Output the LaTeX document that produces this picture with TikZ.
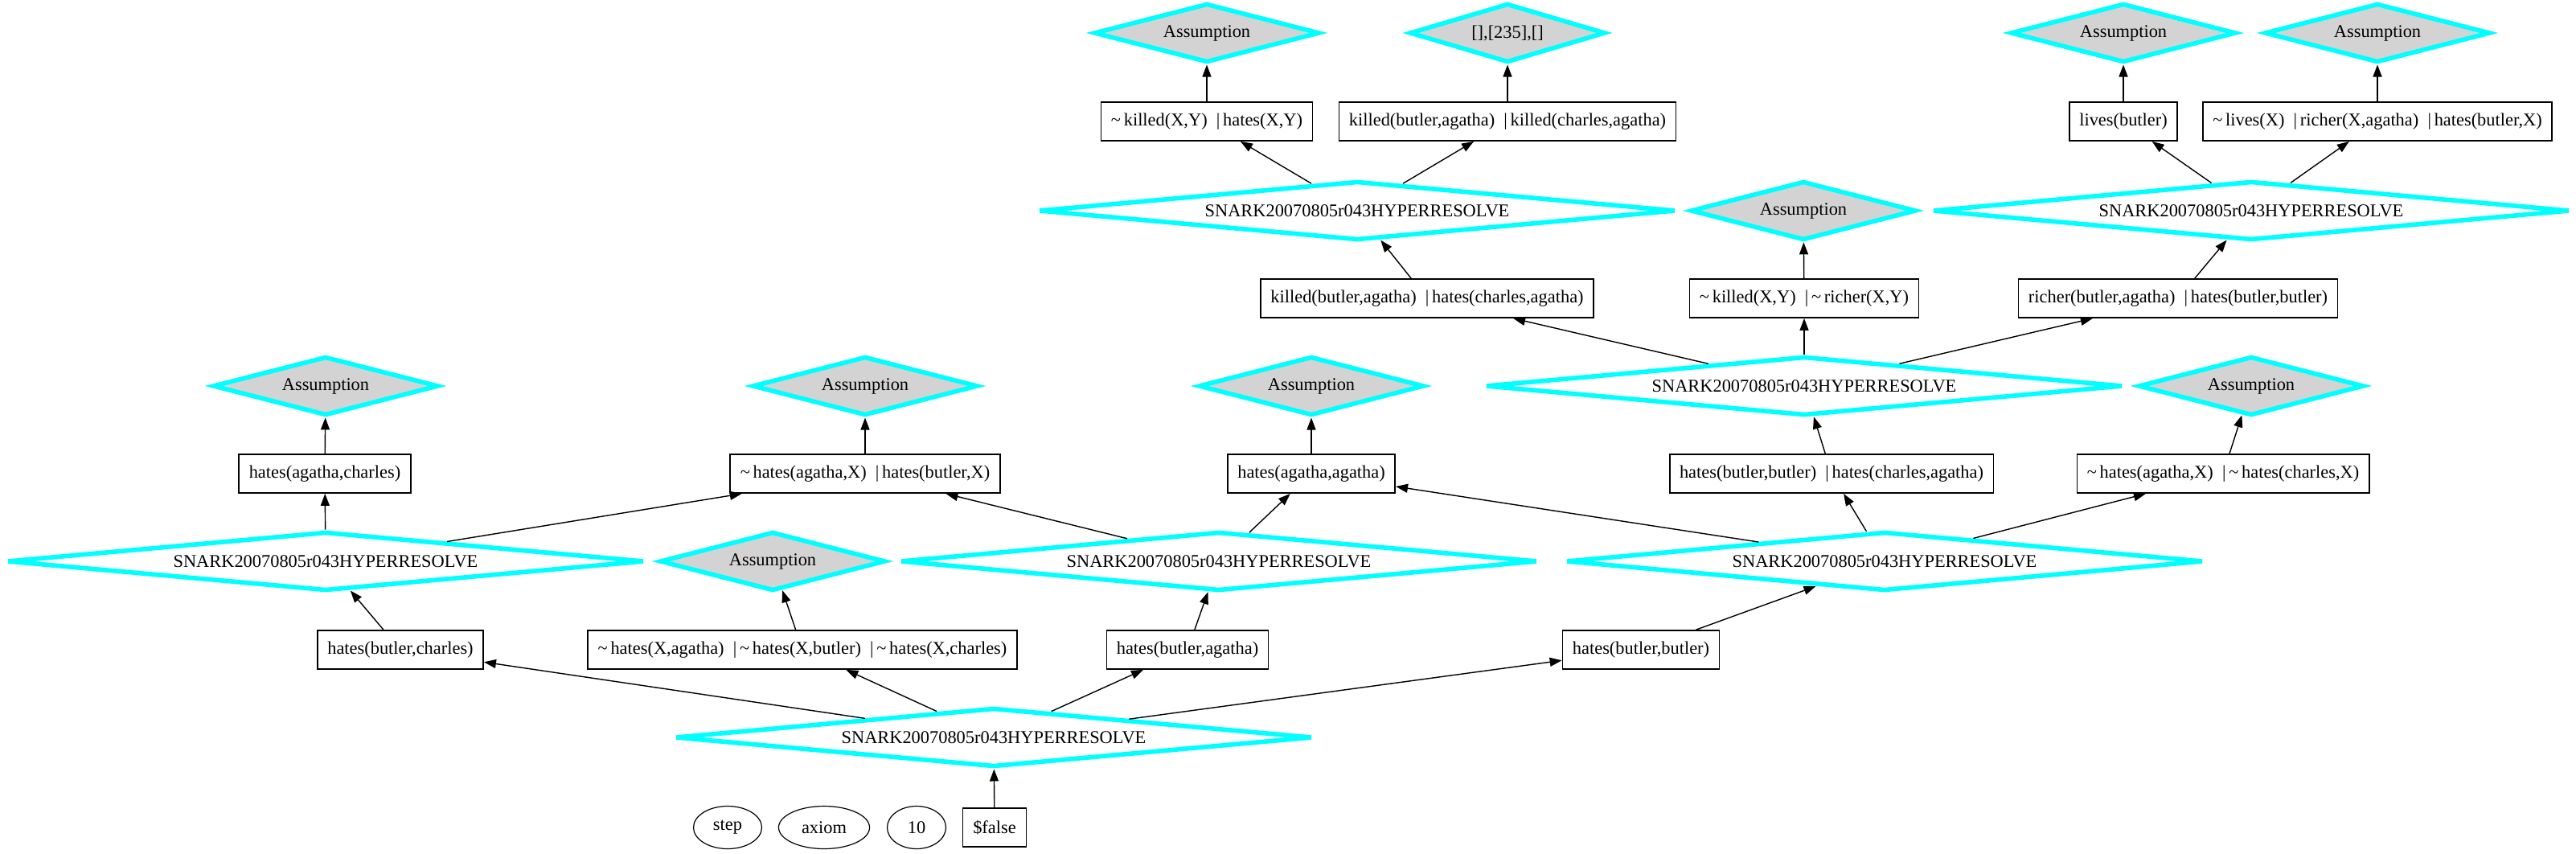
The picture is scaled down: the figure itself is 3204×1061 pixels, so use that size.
\documentclass[tikz,border=0pt]{standalone}
\usepackage{fontspec}
\setmainfont{Liberation Serif}
\usepackage{tikz}
\usetikzlibrary{shapes,arrows.meta}
\definecolor{rescyan}{HTML}{00FFFF}
\definecolor{asmgray}{HTML}{D3D3D3}
\newcommand{\tld}{\textasciitilde\,}
\tikzset{
    clause/.style={draw,rectangle,line width=0.9pt,fill=white,minimum height=24pt,inner xsep=6.2pt,inner ysep=2pt},
    infer/.style={diamond,draw=rescyan,line width=2.8pt,fill=white,aspect=10,minimum width=396pt,minimum height=36.7pt,inner sep=0pt},
    assume/.style={diamond,draw=rescyan,line width=2.8pt,fill=asmgray,aspect=3.8,minimum width=140.2pt,minimum height=36.7pt,inner sep=0pt},
    legend/.style={ellipse,draw,line width=0.6pt,minimum width=36.5pt,minimum height=26.5pt,inner xsep=6pt,inner ysep=2pt}
}

\begin{document}
\begin{tikzpicture}[x=0.5pt,y=-0.5pt,font=\fontsize{11.2pt}{13pt}\selectfont,
    >={Triangle[length=7.5pt,width=5.5pt]},every path/.append style={line width=0.7pt}]
    \useasboundingbox (0,0) rectangle (3204,1061);
    % top row
    \node[assume] (asmA1) at (1501,41) {Assumption};
    \node[assume,minimum width=121.7pt] (asmA2) at (1875,41) {[],[235],[]};
    \node[assume] (asmA3) at (2641,41) {Assumption};
    \node[assume] (asmA4) at (2957,41) {Assumption};
    \node[clause] (clB1) at (1501,151) {\tld killed(X,Y)~~|\,hates(X,Y)};
    \node[clause] (clB2) at (1875,151) {killed(butler,agatha)~~|\,killed(charles,agatha)};
    \node[clause] (clB3) at (2641,151) {lives(butler)};
    \node[clause] (clB4) at (2957,151) {\tld lives(X)~~|\,richer(X,agatha)~~|\,hates(butler,X)};
    \node[infer] (resC1) at (1688,262) {SNARK20070805r043HYPERRESOLVE};
    \node[assume] (asmC2) at (2243,262) {Assumption};
    \node[infer] (resC3) at (2800,262) {SNARK20070805r043HYPERRESOLVE};
    \node[clause] (clD1) at (1775,371) {killed(butler,agatha)~~|\,hates(charles,agatha)};
    \node[clause] (clD2) at (2244,371) {\tld killed(X,Y)~~|\,\tld richer(X,Y)};
    \node[clause] (clD3) at (2709,371) {richer(butler,agatha)~~|\,hates(butler,butler)};
    % middle rows
    \node[assume] (asmE1) at (405,480) {Assumption};
    \node[assume] (asmE2) at (1076,480) {Assumption};
    \node[assume] (asmE3) at (1631,480) {Assumption};
    \node[infer] (resE4) at (2244,480) {SNARK20070805r043HYPERRESOLVE};
    \node[assume] (asmE5) at (2800,480) {Assumption};
    \node[clause] (clF1) at (404,589) {hates(agatha,charles)};
    \node[clause] (clF2) at (1076,589) {\tld hates(agatha,X)~~|\,hates(butler,X)};
    \node[clause] (clF3) at (1631,589) {hates(agatha,agatha)};
    \node[clause] (clF4) at (2278,589) {hates(butler,butler)~~|\,hates(charles,agatha)};
    \node[clause] (clF5) at (2765,589) {\tld hates(agatha,X)~~|\,\tld hates(charles,X)};
    \node[infer] (resG1) at (405,698) {SNARK20070805r043HYPERRESOLVE};
    \node[assume] (asmG2) at (961,698) {Assumption};
    \node[infer] (resG3) at (1516,698) {SNARK20070805r043HYPERRESOLVE};
    \node[infer] (resG4) at (2344,698) {SNARK20070805r043HYPERRESOLVE};
    \node[clause] (clH1) at (498,808) {hates(butler,charles)};
    \node[clause] (clH2) at (998,808) {\tld hates(X,agatha)~~|\,\tld hates(X,butler)~~|\,\tld hates(X,charles)};
    \node[clause] (clH3) at (1477,808) {hates(butler,agatha)};
    \node[clause] (clH4) at (2041,808) {hates(butler,butler)};
    \node[infer] (resI) at (1236,917) {SNARK20070805r043HYPERRESOLVE};
    % legend
    \node[legend] (lgStep) at (905,1029) {step};
    \node[legend] (lgAxiom) at (1025,1029) {axiom};
    \node[legend] (lgTen) at (1140,1029) {10};
    \node[clause,line width=0.6pt] (lgFalse) at (1237,1029) {\$false};
    % edges
    \draw[->] (lgFalse) -- (resI);
    \draw[->] (resI) -- (clH1);
    \draw[->] (resI) -- (clH2);
    \draw[->] (resI) -- (clH3);
    \draw[->] (resI) -- (clH4);
    \draw[->] (clH1) -- (resG1);
    \draw[->] (clH2) -- (asmG2);
    \draw[->] (clH3) -- (resG3);
    \draw[->] (clH4) -- (resG4);
    \draw[->] (resG1) -- (clF1);
    \draw[->] (resG1) -- (clF2);
    \draw[->] (resG3) -- (clF2);
    \draw[->] (resG3) -- (clF3);
    \draw[->] (resG4) -- (clF3);
    \draw[->] (resG4) -- (clF4);
    \draw[->] (resG4) -- (clF5);
    \draw[->] (clF1) -- (asmE1);
    \draw[->] (clF2) -- (asmE2);
    \draw[->] (clF3) -- (asmE3);
    \draw[->] (clF4) -- (resE4);
    \draw[->] (clF5) -- (asmE5);
    \draw[->] (resE4) -- (clD1);
    \draw[->] (resE4) -- (clD2);
    \draw[->] (resE4) -- (clD3);
    \draw[->] (clD1) -- (resC1);
    \draw[->] (clD2) -- (asmC2);
    \draw[->] (clD3) -- (resC3);
    \draw[->] (resC1) -- (clB1);
    \draw[->] (resC1) -- (clB2);
    \draw[->] (resC3) -- (clB3);
    \draw[->] (resC3) -- (clB4);
    \draw[->] (clB1) -- (asmA1);
    \draw[->] (clB2) -- (asmA2);
    \draw[->] (clB3) -- (asmA3);
    \draw[->] (clB4) -- (asmA4);
\end{tikzpicture}
\end{document}
